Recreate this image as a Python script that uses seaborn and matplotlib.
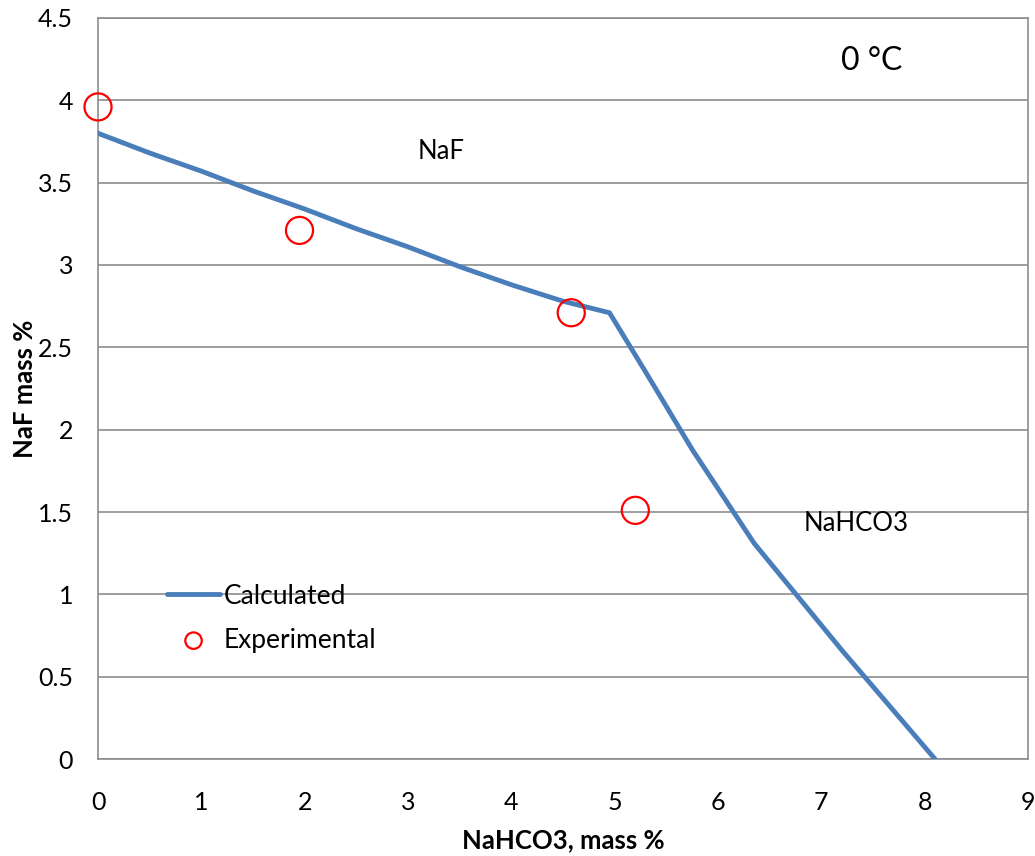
import numpy as np
import pandas as pd
import matplotlib
matplotlib.use("Agg")
import matplotlib.pyplot as plt
import seaborn as sns

# Calculated solubility curve
calc_nahco3 = [0.0, 0.5, 1.0, 1.5, 2.0, 2.5, 3.0, 3.5, 4.0, 4.5, 4.95, 5.3, 5.75, 6.35, 7.2, 8.1]
calc_naf = [3.80, 3.68, 3.57, 3.45, 3.34, 3.22, 3.11, 2.99, 2.88, 2.78, 2.71, 2.35, 1.88, 1.31, 0.66, 0.0]

# Experimental points
exp_nahco3 = [0.0, 1.95, 4.58, 5.2]
exp_naf = [3.96, 3.21, 2.71, 1.51]

x_ticks = list(range(0, 10))
y_ticks = [0, 0.5, 1, 1.5, 2, 2.5, 3, 3.5, 4, 4.5]
y_labels = ["0", "0.5", "1", "1.5", "2", "2.5", "3", "3.5", "4", "4.5"]

calc = pd.DataFrame({"NaHCO3": calc_nahco3, "NaF": calc_naf})
exp = pd.DataFrame({"NaHCO3": exp_nahco3, "NaF": exp_naf})

sns.set_style("white")
plt.rcParams["font.family"] = ["Lato", "DejaVu Sans"]
plt.rcParams["text.color"] = "black"

fig = plt.figure(figsize=(10.35, 8.56), dpi=100)
ax = fig.add_axes([0.0947, 0.1133, 0.8985, 0.8657])

sns.lineplot(data=calc, x="NaHCO3", y="NaF", ax=ax, color="#4a7ebb",
             linewidth=3.5, sort=False, label="Calculated", zorder=3)
sns.scatterplot(data=exp, x="NaHCO3", y="NaF", ax=ax, marker="o", s=380,
                facecolors="none", edgecolor="#ff0000", linewidth=1.6,
                label="Experimental", zorder=4, clip_on=False)

ax.set_xlim(0, 9)
ax.set_ylim(0, 4.5)
ax.set_xticks(x_ticks)
ax.set_yticks(y_ticks)
ax.set_yticklabels(y_labels)
ax.grid(axis="y", color="#8c8c8c", linewidth=1.2)
ax.set_axisbelow(True)
for s in ax.spines.values():
    s.set_color("#8c8c8c")
    s.set_linewidth(1.2)
ax.tick_params(axis="both", direction="out", length=6, width=1.2, color="#8c8c8c",
               labelsize=18, labelcolor="black")
ax.tick_params(axis="x", pad=17)
ax.tick_params(axis="y", pad=12)

ax.set_xlabel("NaHCO3, mass %", fontsize=18.5, fontweight="bold", labelpad=10, color="black")
ax.set_ylabel("NaF mass %", fontsize=18.5, fontweight="bold", labelpad=1, color="black")

ax.text(3.32, 3.69, "NaF", fontsize=18.5, va="center", ha="center")
ax.text(7.34, 1.43, "NaHCO3", fontsize=18.5, va="center", ha="center")
ax.text(7.49, 4.24, "0 °C", fontsize=23, va="center", ha="center")

leg = ax.legend(loc="upper left", bbox_to_anchor=(0.063, 0.251), frameon=False,
                fontsize=19, handlelength=2.0, handletextpad=0.15, labelspacing=0.72,
                borderaxespad=0)
for t in leg.get_texts():
    t.set_color("black")
for h in leg.legend_handles:
    if hasattr(h, "set_sizes"):
        h.set_sizes([140])

fig.savefig("out.png", dpi=100)
